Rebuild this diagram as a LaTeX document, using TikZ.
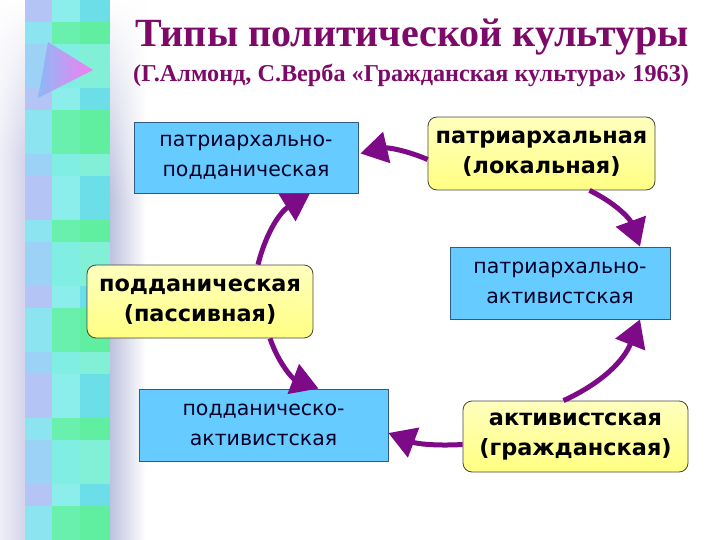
\documentclass[tikz,border=0pt]{standalone}
\usepackage{fontspec}
\setmainfont{DejaVu Sans}
\newfontfamily\titlefont{Liberation Serif}
\usetikzlibrary{arrows.meta,fadings,shadings}
\definecolor{boxblue}{RGB}{102,204,255}
\definecolor{boxline}{RGB}{50,90,130}
\definecolor{boxtext}{RGB}{0,0,40}
\definecolor{ytop}{RGB}{255,255,190}
\definecolor{ybot}{RGB}{255,255,130}
\definecolor{ydraw}{RGB}{70,70,60}
\definecolor{arrowpurple}{RGB}{125,10,135}
\definecolor{titlepurple}{RGB}{125,10,105}
\definecolor{sideL}{RGB}{238,238,248}
\definecolor{sideM}{RGB}{212,212,234}
\definecolor{sideR}{RGB}{190,194,222}
\definecolor{trileft}{RGB}{140,185,245}
\definecolor{triright}{RGB}{245,125,240}
\definecolor{mos00}{RGB}{180,196,244}
\definecolor{mos01}{RGB}{156,210,246}
\definecolor{mos02}{RGB}{140,228,240}
\definecolor{mos10}{RGB}{128,238,226}
\definecolor{mos11}{RGB}{104,240,172}
\definecolor{mos12}{RGB}{140,238,234}
\definecolor{mos20}{RGB}{96,238,160}
\definecolor{mos21}{RGB}{108,222,232}
\definecolor{mos22}{RGB}{130,240,214}
\tikzset{
  bluebox/.style={draw=boxline, line width=0.8pt, fill=boxblue, text=boxtext,
    font=\fontsize{20.5}{30}\selectfont, align=center, inner sep=0pt},
  yellowbox/.style={draw=ydraw, line width=0.8pt, rounded corners=9pt,
    top color=ytop, bottom color=ybot, text=black,
    font=\bfseries\fontsize{22.4}{30}\selectfont, align=center, inner sep=0pt},
  flow/.style={draw=arrowpurple, line width=5pt,
    -{Triangle[length=27pt,width=31pt]}}
}
\begin{document}
\begin{tikzpicture}[x=1pt,y=-1pt]
\useasboundingbox (0,0) rectangle (720,540);
\fill[white] (0,0) rectangle (720,540);
% left decoration
\shade[left color=sideL, right color=sideM] (0,0) rectangle (25,540);
\shade[left color=sideR, right color=white] (110,0) rectangle (146,540);
\foreach \r in {0,...,24}{
  \foreach \c/\xa/\xb in {0/25/52,1/52/80,2/80/110}{
    \pgfmathtruncatemacro\k{mod(\r*2+\c*2+int(\r/3),3)}
    \edef\cname{mos\c\k}
    \fill[fill=\cname] (\xa,\r*22) rectangle (\xb,\r*22+22);
  }
}
\fill[white, path fading=south] (0,0) rectangle (25,160);
\fill[white, path fading=south] (110,0) rectangle (146,200);
\shade[left color=trileft, right color=triright] (48,42) -- (93,70) -- (38,98) -- cycle;
% titles
\node[anchor=base west, inner sep=0pt, text=titlepurple,
  font=\titlefont\bfseries\fontsize{40}{42}\selectfont] (title) at (135,47)
  {Типы политической культуры};
\node[anchor=base west, inner sep=0pt, text=titlepurple,
  font=\titlefont\bfseries\fontsize{24.2}{26}\selectfont] (subtitle) at (133,82)
  {(Г.Алмонд, С.Верба «Гражданская культура» 1963)};
% boxes
\node[bluebox, minimum width=224pt, minimum height=71pt] (pp) at (246,157.5)
  {патриархально-\\подданическая};
\node[yellowbox, minimum width=227pt, minimum height=73pt] (pl) at (541.5,153.5)
  {патриархальная\\(локальная)};
\node[bluebox, minimum width=220pt, minimum height=72pt] (pa) at (560,283)
  {патриархально-\\активистская};
\node[yellowbox, minimum width=226pt, minimum height=73pt] (sp) at (200,301.5)
  {подданическая\\(пассивная)};
\node[bluebox, minimum width=249pt, minimum height=72pt] (sa) at (263.5,425)
  {подданическо-\\активистская};
\node[yellowbox, minimum width=225pt, minimum height=71pt] (ag) at (575.5,436.5)
  {активистская\\(гражданская)};
% connectors
\draw[flow] ([yshift=-6pt]pl.west) to[bend right=18] ([xshift=2pt,yshift=4pt]pp.east);
\draw[flow] ([xshift=58pt]sp.north) to[bend left=22] ([xshift=64pt]pp.south);
\draw[flow] ([xshift=70pt]sp.south) to[bend right=25] ([xshift=55pt]sa.north);
\draw[flow] ([yshift=-8pt]ag.west) to[bend left=12] ([yshift=-8pt]sa.east);
\draw[flow] ([xshift=-12pt]ag.north) to[bend right=22] ([xshift=80pt]pa.south);
\draw[flow] ([xshift=48pt]pl.south) to[bend left=22] ([xshift=80pt]pa.north);
\end{tikzpicture}
\end{document}
